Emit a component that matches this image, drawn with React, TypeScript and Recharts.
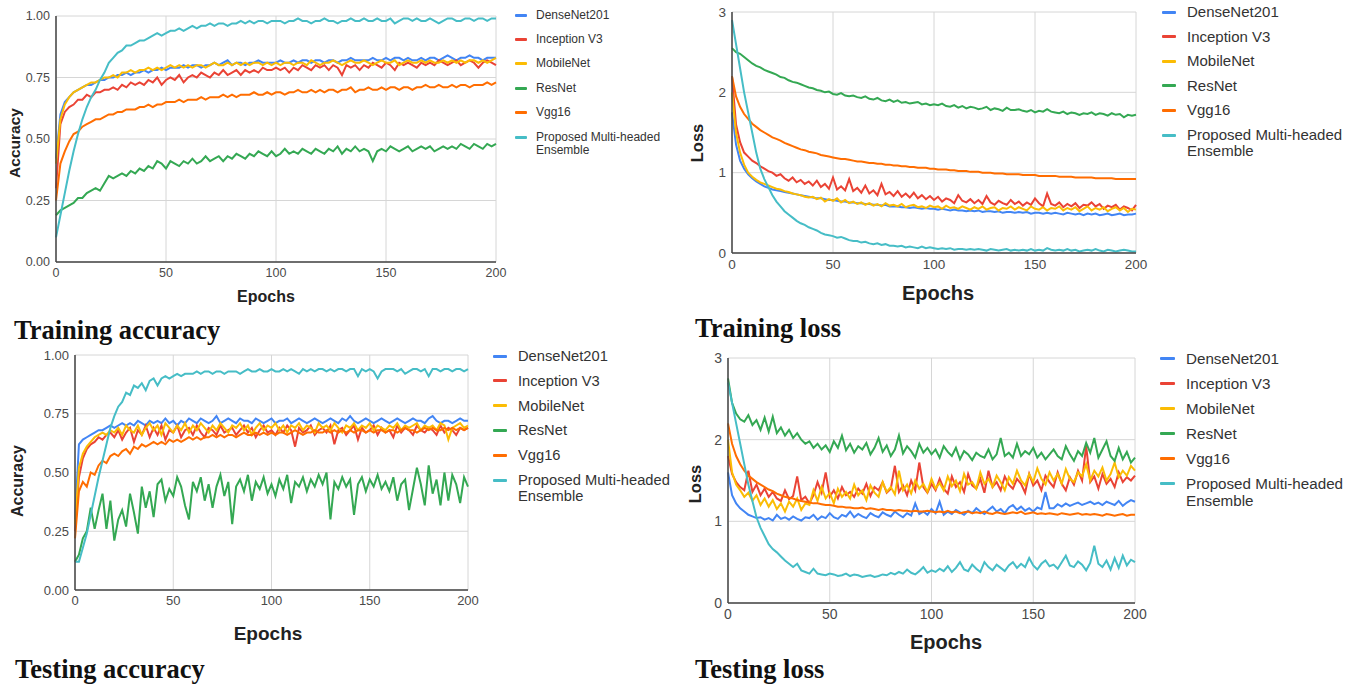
import React from 'react';
import { LineChart, Line, XAxis, YAxis, CartesianGrid } from 'recharts';

// ---------- categories / ticks ----------
const EPOCHS = [0,2,4,6,8,10,12,14,16,18,20,22,24,26,28,30,32,34,36,38,40,42,44,46,48,50,52,54,56,58,60,62,64,66,68,70,72,74,76,78,80,82,84,86,88,90,92,94,96,98,100,102,104,106,108,110,112,114,116,118,120,122,124,126,128,130,132,134,136,138,140,142,144,146,148,150,152,154,156,158,160,162,164,166,168,170,172,174,176,178,180,182,184,186,188,190,192,194,196,198,200];
const X_TICKS = [0, 50, 100, 150, 200];
const ACC_TICKS = [0, 0.25, 0.5, 0.75, 1];
const LOSS_TICKS = [0, 1, 2, 3];
const MODEL_NAMES = ['DenseNet201', 'Inception V3', 'MobileNet', 'ResNet', 'Vgg16', 'Proposed Multi-headed Ensemble'];
const MODEL_COLORS = ['#4285F4', '#EA4335', '#FBBC04', '#34A853', '#FF6D01', '#46BDC6'];

// ---------- Training accuracy ----------
const trainAccDense = [0.42,0.60,0.65,0.67,0.69,0.70,0.71,0.72,0.72,0.73, 0.74,0.74,0.75,0.75,0.76,0.76,0.77,0.76,0.77,0.77, 0.78,0.77,0.78,0.78,0.79,0.78,0.79,0.79,0.79,0.80, 0.79,0.80,0.80,0.79,0.80,0.80,0.81,0.80,0.81,0.82, 0.80,0.81,0.81,0.80,0.81,0.81,0.82,0.81,0.81,0.81, 0.81,0.82,0.81,0.81,0.82,0.81,0.82,0.82,0.81,0.82, 0.82,0.81,0.82,0.82,0.81,0.82,0.82,0.83,0.82,0.82, 0.82,0.82,0.83,0.82,0.82,0.83,0.82,0.83,0.83,0.82, 0.83,0.82,0.82,0.83,0.82,0.83,0.83,0.82,0.83,0.84, 0.83,0.82,0.83,0.83,0.84,0.83,0.83,0.82,0.83,0.83, 0.83];
const trainAccIncep = [0.30,0.56,0.61,0.63,0.64,0.66,0.66,0.68,0.67,0.69, 0.69,0.70,0.70,0.71,0.70,0.72,0.71,0.73,0.72,0.73, 0.72,0.74,0.73,0.75,0.72,0.74,0.75,0.74,0.76,0.73, 0.75,0.76,0.75,0.77,0.76,0.75,0.77,0.76,0.78,0.76, 0.77,0.78,0.76,0.78,0.77,0.78,0.77,0.79,0.78,0.78, 0.79,0.78,0.79,0.77,0.79,0.78,0.80,0.79,0.78,0.80, 0.79,0.80,0.78,0.80,0.79,0.76,0.80,0.79,0.80,0.78, 0.80,0.79,0.81,0.80,0.79,0.81,0.80,0.78,0.81,0.80, 0.81,0.80,0.79,0.81,0.80,0.81,0.80,0.82,0.81,0.80, 0.81,0.82,0.80,0.81,0.82,0.81,0.79,0.81,0.82,0.81, 0.80];
const trainAccMobile = [0.40,0.58,0.64,0.67,0.69,0.70,0.71,0.72,0.73,0.73, 0.74,0.75,0.75,0.76,0.75,0.77,0.77,0.78,0.77,0.78, 0.78,0.79,0.78,0.79,0.78,0.79,0.80,0.79,0.80,0.79, 0.80,0.79,0.80,0.80,0.79,0.80,0.81,0.80,0.80,0.81, 0.80,0.81,0.80,0.81,0.80,0.81,0.81,0.80,0.81,0.80, 0.81,0.80,0.81,0.81,0.80,0.81,0.81,0.80,0.82,0.81, 0.80,0.81,0.81,0.82,0.81,0.80,0.81,0.82,0.81,0.81, 0.82,0.81,0.80,0.81,0.82,0.81,0.81,0.82,0.80,0.81, 0.82,0.81,0.81,0.82,0.81,0.82,0.81,0.81,0.82,0.81, 0.82,0.81,0.82,0.81,0.82,0.82,0.81,0.82,0.81,0.82, 0.83];
const trainAccRes = [0.19,0.21,0.22,0.23,0.24,0.26,0.26,0.28,0.29,0.30, 0.29,0.32,0.35,0.34,0.35,0.36,0.35,0.37,0.36,0.38, 0.37,0.39,0.38,0.41,0.40,0.38,0.41,0.40,0.39,0.41, 0.40,0.42,0.40,0.41,0.43,0.41,0.42,0.43,0.41,0.43, 0.42,0.44,0.43,0.42,0.44,0.43,0.45,0.44,0.43,0.45, 0.43,0.44,0.46,0.44,0.45,0.44,0.46,0.45,0.44,0.46, 0.45,0.44,0.46,0.45,0.47,0.44,0.46,0.45,0.47,0.45, 0.46,0.45,0.41,0.45,0.46,0.45,0.47,0.46,0.45,0.46, 0.47,0.45,0.46,0.47,0.46,0.47,0.45,0.46,0.47,0.46, 0.47,0.46,0.48,0.47,0.46,0.48,0.47,0.46,0.48,0.47, 0.48];
const trainAccVgg = [0.25,0.40,0.45,0.49,0.52,0.53,0.55,0.56,0.57,0.58, 0.58,0.59,0.60,0.60,0.61,0.61,0.62,0.62,0.62,0.63, 0.63,0.64,0.63,0.64,0.64,0.65,0.65,0.65,0.66,0.65, 0.66,0.66,0.66,0.67,0.66,0.67,0.67,0.67,0.68,0.67, 0.68,0.67,0.68,0.68,0.68,0.69,0.68,0.68,0.69,0.68, 0.69,0.69,0.68,0.69,0.69,0.70,0.69,0.69,0.70,0.69, 0.70,0.69,0.70,0.70,0.69,0.70,0.70,0.71,0.69,0.70, 0.70,0.71,0.70,0.70,0.71,0.70,0.71,0.71,0.70,0.71, 0.71,0.70,0.71,0.71,0.72,0.71,0.71,0.72,0.71,0.71, 0.72,0.71,0.72,0.72,0.71,0.72,0.72,0.72,0.73,0.72, 0.73];
const trainAccProp = [0.10,0.19,0.28,0.37,0.45,0.52,0.58,0.63,0.67,0.70, 0.74,0.77,0.81,0.83,0.85,0.86,0.88,0.88,0.89,0.90, 0.90,0.91,0.92,0.93,0.92,0.93,0.94,0.94,0.95,0.94, 0.95,0.96,0.95,0.96,0.96,0.97,0.96,0.97,0.97,0.96, 0.97,0.97,0.98,0.97,0.98,0.97,0.98,0.98,0.97,0.98, 0.98,0.98,0.97,0.98,0.98,0.99,0.98,0.98,0.97,0.98, 0.98,0.99,0.98,0.98,0.97,0.98,0.98,0.99,0.98,0.98, 0.99,0.98,0.98,0.99,0.98,0.98,0.99,0.97,0.98,0.99, 0.99,0.98,0.99,0.98,0.98,0.99,0.98,0.97,0.98,0.99, 0.99,0.98,0.98,0.99,0.99,0.98,0.99,0.99,0.98,0.99, 0.99];

// ---------- Training loss ----------
const trainLossDense = [1.75,1.35,1.15,1.05,0.98,0.93,0.89,0.86,0.83,0.81, 0.79,0.78,0.77,0.76,0.75,0.74,0.73,0.72,0.71,0.70, 0.69,0.68,0.68,0.67,0.66,0.66,0.65,0.64,0.64,0.63, 0.63,0.62,0.62,0.61,0.61,0.60,0.60,0.59,0.60,0.58, 0.58,0.58,0.57,0.57,0.56,0.57,0.56,0.55,0.56,0.55, 0.55,0.54,0.55,0.54,0.53,0.54,0.53,0.53,0.52,0.53, 0.52,0.53,0.51,0.52,0.52,0.51,0.52,0.50,0.51,0.51, 0.50,0.51,0.50,0.51,0.49,0.50,0.50,0.49,0.50,0.49, 0.50,0.49,0.48,0.50,0.49,0.48,0.49,0.47,0.49,0.48, 0.49,0.47,0.48,0.49,0.47,0.48,0.49,0.47,0.48,0.48, 0.49];
const trainLossIncep = [2.20,1.60,1.38,1.25,1.20,1.15,1.12,1.08,1.05,1.02, 1.00,0.96,0.98,0.93,0.90,0.94,0.88,0.91,0.86,0.89, 0.84,0.90,0.82,0.86,0.80,0.94,0.79,0.83,0.78,0.92, 0.77,0.81,0.75,0.84,0.74,0.78,0.72,0.86,0.73,0.76, 0.71,0.77,0.70,0.74,0.69,0.75,0.68,0.72,0.67,0.71, 0.66,0.70,0.64,0.68,0.66,0.62,0.72,0.65,0.63,0.67, 0.62,0.66,0.61,0.71,0.63,0.60,0.65,0.62,0.60,0.66, 0.61,0.64,0.59,0.63,0.60,0.68,0.62,0.58,0.74,0.61, 0.59,0.63,0.57,0.61,0.58,0.62,0.56,0.60,0.59,0.63, 0.58,0.61,0.55,0.59,0.57,0.60,0.54,0.58,0.56,0.53, 0.60];
const trainLossMobile = [2.00,1.50,1.25,1.10,1.00,0.95,0.91,0.88,0.86,0.84, 0.82,0.80,0.79,0.77,0.76,0.74,0.73,0.72,0.70,0.69, 0.70,0.67,0.69,0.64,0.67,0.65,0.68,0.63,0.66,0.62, 0.64,0.61,0.63,0.60,0.62,0.59,0.61,0.58,0.62,0.59, 0.60,0.58,0.61,0.57,0.59,0.60,0.57,0.58,0.56,0.59, 0.57,0.58,0.55,0.59,0.56,0.57,0.55,0.58,0.56,0.54, 0.57,0.55,0.58,0.54,0.56,0.57,0.53,0.56,0.55,0.58, 0.54,0.57,0.55,0.53,0.58,0.55,0.54,0.57,0.53,0.56, 0.55,0.58,0.53,0.56,0.54,0.57,0.52,0.55,0.58,0.53, 0.56,0.54,0.57,0.52,0.55,0.57,0.53,0.56,0.51,0.55, 0.54];
const trainLossRes = [2.55,2.50,2.48,2.44,2.40,2.36,2.33,2.31,2.28,2.26, 2.24,2.22,2.19,2.18,2.15,2.13,2.12,2.10,2.08,2.06, 2.05,2.03,2.02,2.00,2.01,1.98,1.97,1.99,1.96,1.95, 1.96,1.94,1.93,1.95,1.92,1.91,1.93,1.90,1.89,1.91, 1.88,1.90,1.87,1.88,1.86,1.87,1.88,1.85,1.86,1.84, 1.85,1.84,1.86,1.83,1.82,1.84,1.81,1.83,1.80,1.82, 1.81,1.79,1.80,1.82,1.78,1.80,1.79,1.77,1.81,1.78, 1.78,1.79,1.77,1.76,1.78,1.75,1.77,1.76,1.79,1.76, 1.75,1.74,1.76,1.73,1.75,1.74,1.72,1.74,1.73,1.75, 1.72,1.74,1.73,1.71,1.74,1.72,1.73,1.69,1.72,1.71, 1.72];
const trainLossVgg = [2.20,1.95,1.82,1.73,1.67,1.61,1.57,1.53,1.50,1.47, 1.44,1.42,1.40,1.37,1.35,1.33,1.31,1.29,1.28,1.26, 1.25,1.24,1.22,1.21,1.20,1.19,1.18,1.17,1.17,1.16, 1.15,1.14,1.14,1.13,1.12,1.12,1.11,1.11,1.10,1.10, 1.09,1.09,1.08,1.08,1.07,1.07,1.06,1.06,1.06,1.05, 1.05,1.04,1.04,1.04,1.03,1.03,1.02,1.02,1.02,1.01, 1.01,1.01,1.00,1.00,1.00,0.99,0.99,0.99,0.98,0.98, 0.98,0.98,0.97,0.97,0.97,0.97,0.96,0.96,0.96,0.96, 0.96,0.95,0.95,0.95,0.95,0.94,0.94,0.94,0.94,0.94, 0.93,0.93,0.93,0.93,0.93,0.92,0.92,0.92,0.92,0.92, 0.92];
const trainLossProp = [2.90,2.60,2.30,2.00,1.75,1.50,1.25,1.05,0.92,0.82, 0.72,0.64,0.58,0.52,0.48,0.44,0.40,0.37,0.35,0.32, 0.30,0.28,0.25,0.23,0.22,0.21,0.19,0.20,0.18,0.16, 0.15,0.15,0.13,0.14,0.12,0.11,0.12,0.10,0.11,0.09, 0.09,0.08,0.09,0.07,0.08,0.07,0.06,0.08,0.06,0.07, 0.06,0.05,0.06,0.05,0.06,0.04,0.05,0.05,0.04,0.05, 0.04,0.05,0.04,0.03,0.05,0.04,0.03,0.04,0.05,0.03, 0.04,0.03,0.04,0.03,0.05,0.03,0.04,0.03,0.06,0.04, 0.03,0.04,0.03,0.05,0.03,0.04,0.02,0.03,0.04,0.03, 0.05,0.03,0.02,0.04,0.03,0.02,0.03,0.04,0.03,0.02, 0.02];

// ---------- Testing accuracy ----------
const testAccDense = [0.30,0.62,0.64,0.65,0.66,0.67,0.68,0.68,0.69,0.70, 0.69,0.70,0.71,0.70,0.71,0.70,0.72,0.71,0.70,0.72, 0.71,0.72,0.71,0.73,0.71,0.72,0.70,0.72,0.71,0.73, 0.72,0.71,0.73,0.72,0.71,0.72,0.74,0.71,0.72,0.73, 0.72,0.71,0.73,0.72,0.72,0.71,0.73,0.72,0.71,0.72, 0.73,0.71,0.72,0.72,0.73,0.71,0.72,0.73,0.72,0.71, 0.72,0.73,0.72,0.71,0.72,0.73,0.72,0.71,0.73,0.72, 0.74,0.72,0.71,0.72,0.73,0.72,0.71,0.72,0.73,0.72, 0.71,0.72,0.73,0.72,0.71,0.72,0.73,0.72,0.72,0.71, 0.73,0.74,0.72,0.71,0.72,0.72,0.71,0.72,0.73,0.72, 0.72];
const testAccIncep = [0.25,0.48,0.56,0.60,0.62,0.63,0.65,0.64,0.66,0.67, 0.65,0.68,0.64,0.67,0.69,0.63,0.68,0.66,0.70,0.65, 0.69,0.66,0.70,0.64,0.68,0.67,0.70,0.65,0.68,0.69, 0.66,0.70,0.67,0.65,0.69,0.68,0.66,0.70,0.67,0.68, 0.69,0.66,0.68,0.70,0.67,0.69,0.65,0.68,0.70,0.67, 0.68,0.66,0.69,0.67,0.70,0.68,0.61,0.69,0.67,0.68, 0.70,0.66,0.68,0.69,0.67,0.70,0.62,0.68,0.69,0.66, 0.68,0.70,0.64,0.69,0.67,0.68,0.70,0.66,0.69,0.67, 0.68,0.65,0.70,0.67,0.69,0.68,0.66,0.70,0.68,0.67, 0.69,0.68,0.66,0.70,0.67,0.69,0.68,0.66,0.69,0.68, 0.69];
const testAccMobile = [0.28,0.52,0.58,0.61,0.63,0.65,0.66,0.67,0.66,0.68, 0.67,0.69,0.66,0.70,0.68,0.67,0.70,0.66,0.69,0.71, 0.68,0.70,0.66,0.71,0.69,0.67,0.70,0.68,0.71,0.67, 0.70,0.68,0.71,0.69,0.67,0.70,0.68,0.71,0.69,0.67, 0.70,0.69,0.71,0.68,0.70,0.66,0.69,0.71,0.68,0.70, 0.69,0.71,0.68,0.70,0.67,0.70,0.69,0.71,0.68,0.70, 0.69,0.67,0.71,0.69,0.70,0.68,0.71,0.69,0.67,0.70, 0.69,0.71,0.68,0.70,0.69,0.71,0.68,0.70,0.69,0.68, 0.70,0.69,0.71,0.68,0.70,0.69,0.70,0.71,0.68,0.70, 0.69,0.70,0.68,0.71,0.70,0.64,0.69,0.70,0.71,0.69, 0.70];
const testAccRes = [0.12,0.15,0.22,0.25,0.35,0.26,0.34,0.41,0.26,0.38, 0.21,0.30,0.34,0.27,0.41,0.33,0.24,0.44,0.35,0.42, 0.31,0.45,0.47,0.38,0.43,0.40,0.48,0.44,0.36,0.30, 0.46,0.42,0.48,0.38,0.45,0.35,0.44,0.49,0.40,0.46, 0.28,0.44,0.47,0.42,0.49,0.38,0.46,0.43,0.48,0.41, 0.45,0.40,0.47,0.43,0.49,0.37,0.46,0.44,0.48,0.42, 0.47,0.44,0.49,0.45,0.50,0.30,0.46,0.43,0.48,0.44, 0.47,0.32,0.45,0.48,0.42,0.47,0.44,0.49,0.43,0.46, 0.42,0.48,0.38,0.45,0.47,0.34,0.43,0.52,0.45,0.36, 0.53,0.41,0.47,0.36,0.50,0.38,0.49,0.45,0.37,0.48, 0.44];
const testAccVgg = [0.22,0.42,0.46,0.44,0.50,0.49,0.53,0.55,0.54,0.57, 0.58,0.57,0.59,0.60,0.58,0.61,0.60,0.62,0.61,0.62, 0.63,0.62,0.63,0.62,0.64,0.63,0.64,0.63,0.64,0.65, 0.64,0.65,0.64,0.65,0.65,0.66,0.65,0.66,0.65,0.66, 0.66,0.65,0.66,0.67,0.66,0.66,0.67,0.66,0.67,0.66, 0.67,0.66,0.67,0.67,0.66,0.67,0.68,0.67,0.66,0.67, 0.67,0.68,0.67,0.67,0.68,0.67,0.68,0.67,0.68,0.67, 0.68,0.67,0.68,0.68,0.67,0.68,0.67,0.68,0.68,0.67, 0.68,0.68,0.67,0.68,0.69,0.68,0.68,0.67,0.68,0.69, 0.68,0.69,0.68,0.68,0.69,0.68,0.69,0.68,0.69,0.68, 0.69];
const testAccProp = [0.12,0.12,0.18,0.24,0.32,0.40,0.48,0.55,0.62,0.69, 0.74,0.78,0.80,0.84,0.83,0.87,0.86,0.88,0.85,0.89, 0.90,0.87,0.90,0.91,0.90,0.91,0.92,0.91,0.92,0.92, 0.92,0.93,0.92,0.93,0.93,0.92,0.93,0.93,0.92,0.93, 0.93,0.93,0.92,0.93,0.94,0.93,0.93,0.94,0.93,0.93, 0.94,0.93,0.93,0.94,0.93,0.94,0.93,0.92,0.94,0.93, 0.94,0.93,0.94,0.94,0.93,0.94,0.93,0.94,0.94,0.93, 0.94,0.94,0.91,0.94,0.93,0.94,0.93,0.90,0.93,0.94, 0.94,0.94,0.93,0.94,0.92,0.93,0.94,0.94,0.93,0.94, 0.91,0.94,0.94,0.93,0.94,0.94,0.93,0.94,0.94,0.93, 0.94];

// ---------- Testing loss ----------
const testLossDense = [1.60,1.32,1.22,1.16,1.12,1.08,1.06,1.04,1.05,1.02, 1.04,1.01,1.08,1.03,1.05,1.02,1.06,1.03,1.01,1.05, 1.04,1.08,1.02,1.06,1.04,1.10,1.05,1.03,1.08,1.06, 1.12,1.05,1.09,1.06,1.04,1.10,1.07,1.05,1.11,1.08, 1.06,1.12,1.08,1.05,1.10,1.07,1.22,1.09,1.12,1.08, 1.15,1.10,1.24,1.08,1.12,1.09,1.14,1.11,1.08,1.13, 1.10,1.16,1.12,1.09,1.14,1.18,1.12,1.15,1.10,1.17, 1.20,1.14,1.18,1.13,1.16,1.12,1.17,1.15,1.36,1.16, 1.16,1.21,1.18,1.22,1.19,1.21,1.23,1.20,1.22,1.24, 1.21,1.23,1.20,1.24,1.22,1.20,1.25,1.19,1.23,1.26, 1.24];
const testLossIncep = [1.80,1.58,1.48,1.42,1.38,1.62,1.36,1.45,1.32,1.40, 1.30,1.36,1.28,1.25,1.38,1.27,1.31,1.55,1.26,1.30, 1.22,1.32,1.48,1.35,1.60,1.30,1.38,1.28,1.42,1.32, 1.36,1.30,1.40,1.34,1.46,1.31,1.42,1.38,1.48,1.35, 1.40,1.68,1.36,1.44,1.32,1.50,1.38,1.72,1.42,1.35, 1.46,1.38,1.52,1.40,1.34,1.55,1.42,1.48,1.36,1.58, 1.44,1.40,1.52,1.35,1.62,1.42,1.48,1.38,1.55,1.45, 1.40,1.52,1.46,1.35,1.58,1.44,1.50,1.38,1.56,1.48, 1.42,1.60,1.46,1.38,1.54,1.45,1.62,1.50,1.92,1.48, 1.55,1.40,1.58,1.46,1.52,1.42,1.60,1.48,1.54,1.50, 1.56];
const testLossMobile = [2.00,1.60,1.45,1.38,1.30,1.35,1.25,1.32,1.20,1.28, 1.18,1.26,1.15,1.22,1.12,1.24,1.18,1.28,1.14,1.22, 1.20,1.38,1.25,1.42,1.28,1.35,1.22,1.40,1.30,1.36, 1.28,1.45,1.32,1.38,1.26,1.44,1.35,1.30,1.48,1.36, 1.42,1.33,1.62,1.38,1.45,1.34,1.50,1.40,1.46,1.36, 1.52,1.40,1.47,1.38,1.55,1.43,1.50,1.37,1.58,1.45, 1.48,1.40,1.60,1.46,1.52,1.42,1.56,1.48,1.38,1.54, 1.46,1.62,1.50,1.44,1.58,1.48,1.65,1.52,1.45,1.60, 1.50,1.58,1.46,1.64,1.52,1.48,1.60,1.55,1.70,1.50, 1.62,1.55,1.66,1.50,1.58,1.72,1.54,1.62,1.56,1.68, 1.62];
const testLossRes = [2.75,2.45,2.32,2.25,2.22,2.30,2.18,2.24,2.12,2.27, 2.10,2.28,2.08,2.15,2.05,2.12,2.02,2.08,2.00,1.95, 1.98,1.90,1.95,1.88,1.93,1.85,1.98,1.90,2.05,1.87, 1.95,1.84,1.92,1.88,1.96,1.82,1.90,2.02,1.85,1.93, 1.80,1.88,2.05,1.83,1.92,1.86,1.78,1.95,1.84,1.90, 1.82,1.88,1.78,1.92,1.85,1.80,1.90,1.76,1.86,1.82, 1.75,1.84,1.80,1.78,1.88,1.76,1.82,2.02,1.80,1.84, 1.78,1.95,1.80,1.86,1.82,1.90,1.78,1.84,1.76,1.82, 1.88,1.80,1.76,1.92,1.82,1.74,1.86,1.80,1.96,1.84, 2.02,1.78,1.88,1.98,1.80,1.74,1.90,1.76,1.85,1.72, 1.78];
const testLossVgg = [2.20,1.95,1.80,1.70,1.62,1.56,1.52,1.48,1.45,1.42, 1.39,1.37,1.34,1.32,1.30,1.29,1.28,1.26,1.25,1.24, 1.23,1.22,1.22,1.21,1.20,1.20,1.19,1.18,1.18,1.17, 1.17,1.16,1.16,1.17,1.15,1.16,1.15,1.14,1.15,1.14, 1.14,1.13,1.14,1.13,1.13,1.12,1.13,1.12,1.12,1.13, 1.12,1.11,1.12,1.11,1.13,1.11,1.12,1.10,1.11,1.12, 1.10,1.11,1.10,1.12,1.10,1.09,1.11,1.10,1.09,1.10, 1.11,1.10,1.12,1.09,1.10,1.11,1.09,1.10,1.09,1.10, 1.09,1.08,1.10,1.09,1.08,1.09,1.10,1.08,1.09,1.08, 1.09,1.08,1.07,1.09,1.08,1.07,1.08,1.09,1.07,1.08, 1.08];
const testLossProp = [2.70,2.45,2.20,1.95,1.70,1.45,1.25,1.05,0.92,0.82, 0.72,0.66,0.62,0.57,0.52,0.48,0.44,0.48,0.40,0.38, 0.36,0.42,0.36,0.35,0.34,0.36,0.35,0.33,0.34,0.36, 0.33,0.35,0.34,0.32,0.33,0.34,0.32,0.33,0.35,0.34, 0.37,0.35,0.38,0.36,0.41,0.37,0.35,0.39,0.44,0.37, 0.40,0.38,0.42,0.39,0.45,0.38,0.43,0.50,0.41,0.39, 0.47,0.42,0.38,0.50,0.44,0.40,0.47,0.43,0.39,0.46, 0.50,0.43,0.48,0.44,0.55,0.46,0.41,0.48,0.52,0.45, 0.47,0.42,0.50,0.58,0.46,0.44,0.51,0.47,0.40,0.49, 0.70,0.48,0.44,0.52,0.41,0.55,0.43,0.58,0.46,0.53, 0.50];

const SANS = '"Liberation Sans", Arial, Helvetica, sans-serif';
const SERIF = '"Liberation Serif", "Times New Roman", serif';

function buildRows(series: number[][]) {
  return EPOCHS.map((e, i) => {
    const r: Record<string, number> = { epoch: e };
    series.forEach((s, j) => { r['s' + j] = s[i]; });
    return r;
  });
}

type Box = { x0: number; x1: number; y0: number; y1: number };
type PanelProps = {
  series: number[][];
  box: Box;
  yTicks: number[];
  yMax: number;
  yFmt: (v: number) => string;
  tickFont: number;
};

function Panel({ series, box, yTicks, yMax, yFmt, tickFont }: PanelProps) {
  const rows = buildRows(series);
  const L = 50, R = 20, T = 10, B = 30;
  const W = box.x1 - box.x0 + L + R;
  const H = box.y1 - box.y0 + T + B;
  const tickStyle = { fill: '#4a4a4a', fontSize: tickFont, fontFamily: SANS };
  return (
    <div style={{ position: 'absolute', left: box.x0 - L, top: box.y0 - T }}>
      <LineChart width={W} height={H} data={rows} margin={{ top: T, right: R, bottom: 0, left: 0 }}>
        <CartesianGrid stroke="#d6d6d6" strokeWidth={1} />
        <XAxis dataKey="epoch" type="number" domain={[0, 200]} ticks={X_TICKS} interval={0}
          height={B} tickSize={0} tickMargin={6} tick={tickStyle}
          axisLine={{ stroke: '#444', strokeWidth: 1.5 }} tickLine={false} />
        <YAxis type="number" domain={[0, yMax]} ticks={yTicks} interval={0} width={L}
          tickSize={0} tickMargin={6} tick={tickStyle} tickFormatter={yFmt}
          axisLine={{ stroke: '#444', strokeWidth: 1.5 }} tickLine={false} />
        {series.map((_, j) => (
          <Line key={j} type="linear" dataKey={'s' + j} name={MODEL_NAMES[j]} stroke={MODEL_COLORS[j]}
            strokeWidth={2} dot={false} activeDot={false} isAnimationActive={false} />
        ))}
      </LineChart>
    </div>
  );
}

function Legend({ x, y, gap, sym, textX, font }: { x: number; y: number; gap: number; sym: number; textX: number; font: number }) {
  const lh = Math.ceil(font) + 1;
  return (
    <>
      {MODEL_NAMES.map((n, i) => {
        const parts = i === 5 ? ['Proposed Multi-headed', 'Ensemble'] : [n];
        return (
          <React.Fragment key={n}>
            <div style={{ position: 'absolute', left: x, top: y + i * gap - 1.5, width: sym, height: 3, background: MODEL_COLORS[i], borderRadius: 1 }} />
            <div style={{ position: 'absolute', left: textX, top: y + i * gap - lh / 2, fontFamily: SANS, fontSize: font, lineHeight: `${lh}px`, color: '#333', whiteSpace: 'nowrap' }}>
              {parts.map((p) => <div key={p}>{p}</div>)}
            </div>
          </React.Fragment>
        );
      })}
    </>
  );
}

function CenterText({ x, y, text, size, rotate, bold = true }: { x: number; y: number; text: string; size: number; rotate?: boolean; bold?: boolean }) {
  return (
    <div style={{ position: 'absolute', left: x, top: y, transform: `translate(-50%, -50%)${rotate ? ' rotate(-90deg)' : ''}`, fontFamily: SANS, fontWeight: bold ? 700 : 400, fontSize: size, lineHeight: 1, color: '#222', whiteSpace: 'nowrap' }}>
      {text}
    </div>
  );
}

function Caption({ x, y, text }: { x: number; y: number; text: string }) {
  return (
    <div style={{ position: 'absolute', left: x, top: y, transform: 'translateY(-50%)', fontFamily: SERIF, fontWeight: 700, fontSize: 26.5, lineHeight: 1, color: '#111', whiteSpace: 'nowrap' }}>
      {text}
    </div>
  );
}

const fmtAcc = (v: number) => v.toFixed(2);
const fmtLoss = (v: number) => String(v);

export default function App() {
  return (
    <div style={{ position: 'absolute', left: 0, top: 0, width: 1360, height: 685, background: '#fff', overflow: 'hidden' }}>
      {/* Training accuracy */}
      <Panel series={[trainAccDense, trainAccIncep, trainAccMobile, trainAccRes, trainAccVgg, trainAccProp]}
        box={{ x0: 56, x1: 496, y0: 16, y1: 262 }} yTicks={ACC_TICKS} yMax={1} yFmt={fmtAcc} tickFont={12.5} />
      <Legend x={515} y={15} gap={24.4} sym={12} textX={536} font={12} />
      <CenterText x={266} y={297} text="Epochs" size={16} />
      <CenterText x={15} y={143} text="Accuracy" size={15.5} rotate />
      <Caption x={14} y={330} text="Training accuracy" />

      {/* Training loss */}
      <Panel series={[trainLossDense, trainLossIncep, trainLossMobile, trainLossRes, trainLossVgg, trainLossProp]}
        box={{ x0: 732, x1: 1136, y0: 12, y1: 253 }} yTicks={LOSS_TICKS} yMax={3} yFmt={fmtLoss} tickFont={13.5} />
      <Legend x={1162} y={12} gap={24.6} sym={14} textX={1187} font={15} />
      <CenterText x={938} y={293} text="Epochs" size={20} />
      <CenterText x={697} y={143} text="Loss" size={16.5} rotate />
      <Caption x={695} y={328} text="Training loss" />

      {/* Testing accuracy */}
      <Panel series={[testAccDense, testAccIncep, testAccMobile, testAccRes, testAccVgg, testAccProp]}
        box={{ x0: 75, x1: 468, y0: 355, y1: 590 }} yTicks={ACC_TICKS} yMax={1} yFmt={fmtAcc} tickFont={13} />
      <Legend x={493} y={356} gap={24.8} sym={14} textX={518} font={14.7} />
      <CenterText x={268} y={633} text="Epochs" size={19} />
      <CenterText x={18} y={481} text="Accuracy" size={16} rotate />
      <Caption x={15} y={669} text="Testing accuracy" />

      {/* Testing loss */}
      <Panel series={[testLossDense, testLossIncep, testLossMobile, testLossRes, testLossVgg, testLossProp]}
        box={{ x0: 728, x1: 1135, y0: 358, y1: 603 }} yTicks={LOSS_TICKS} yMax={3} yFmt={fmtLoss} tickFont={14} />
      <Legend x={1160} y={358} gap={25} sym={15} textX={1186} font={15.2} />
      <CenterText x={946} y={642} text="Epochs" size={20} />
      <CenterText x={695} y={484} text="Loss" size={16.5} rotate />
      <Caption x={695} y={669} text="Testing loss" />
    </div>
  );
}
